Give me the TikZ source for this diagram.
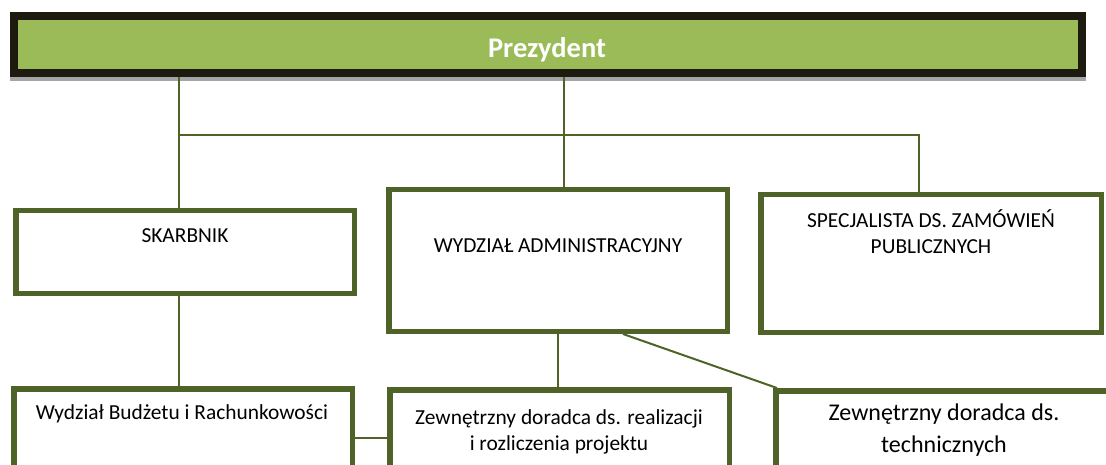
\documentclass[tikz,border=0pt]{standalone}
\usepackage{fontspec}
\setmainfont{Carlito}
\definecolor{barGreen}{HTML}{9BBB59}
\definecolor{barDark}{HTML}{1D1B10}
\definecolor{olive}{HTML}{4F6228}
\definecolor{shadowGray}{HTML}{A5A5A5}
\tikzset{
  unitbox/.style={draw=olive, line width=5.5pt, fill=white, rectangle, inner sep=0pt},
  conn/.style={draw=olive, line width=2pt},
  lbl/.style={anchor=base, align=center, inner sep=0pt, font=\fontsize{21.4}{26}\selectfont},
  biglbl/.style={anchor=base, align=center, inner sep=0pt, font=\fontsize{24}{32}\selectfont},
}
\begin{document}
\begin{tikzpicture}[x=1pt, y=-1pt]
\useasboundingbox (0,0) rectangle (1106,465);
\clip (0,0) rectangle (1106,465);
% Prezydent bar
\fill[shadowGray] (10,74) rectangle (1086,81);
\node[draw=barDark, fill=barGreen, line width=8pt, rectangle, inner sep=0pt,
      minimum width=1068pt, minimum height=56.5pt] (prez) at (548,44.5) {};
\node[anchor=base, inner sep=0pt, text=white, font=\fontsize{28.5}{32}\selectfont\bfseries] (prezt) at (547,57.5) {Prezydent};
% boxes
\node[unitbox, minimum width=338.5pt, minimum height=82.5pt] (skar) at (185,252) {};
\node[unitbox, minimum width=338.5pt, minimum height=141.5pt] (wydz) at (558,260.5) {};
\node[unitbox, minimum width=340.5pt, minimum height=137.5pt] (spec) at (931,263.5) {};
\node[unitbox, minimum width=338.5pt, minimum height=128.5pt] (budz) at (183,453) {};
\node[unitbox, minimum width=339.5pt, minimum height=127.5pt] (zewa) at (559.5,453.5) {};
\node[unitbox, minimum width=341.5pt, minimum height=126.5pt] (zewb) at (946.5,454) {};
% junction coordinates
\coordinate (lj) at (179,135);
\coordinate (mj) at (564,135);
\coordinate (rj) at (919,135);
\coordinate (hb) at (371,438);
\coordinate (dg) at (623,334);
% connectors
\draw[conn] (prez.south -| lj) -- (lj |- skar.north);
\draw[conn] (prez.south -| mj) -- (mj |- wydz.north);
\draw[conn] (lj) -- (rj) -- (rj |- spec.north);
\draw[conn] (lj |- skar.south) -- (lj |- budz.north);
\draw[conn] (budz.east |- hb) -- (zewa.west |- hb);
\draw[conn] (wydz.south) -- (wydz.south |- zewa.north);
\draw[conn] (wydz.south -| dg) -- ([xshift=4pt]zewb.north west);
% texts
\node[lbl] (skart) at (185,243) {SKARBNIK};
\node[lbl] (wydzt) at (558,252) {WYDZIAŁ ADMINISTRACYJNY};
\node[lbl] (spect) at (931,254) {SPECJALISTA DS. ZAMÓWIEŃ\\PUBLICZNYCH};
\node[lbl] (budzt) at (182,419) {Wydział Budżetu i Rachunkowości};
\node[lbl] (zewat) at (559,450) {Zewnętrzny doradca ds. realizacji\\i rozliczenia projektu};
\node[biglbl] (zewbt) at (944,452) {Zewnętrzny doradca ds.\\technicznych};
\end{tikzpicture}
\end{document}
